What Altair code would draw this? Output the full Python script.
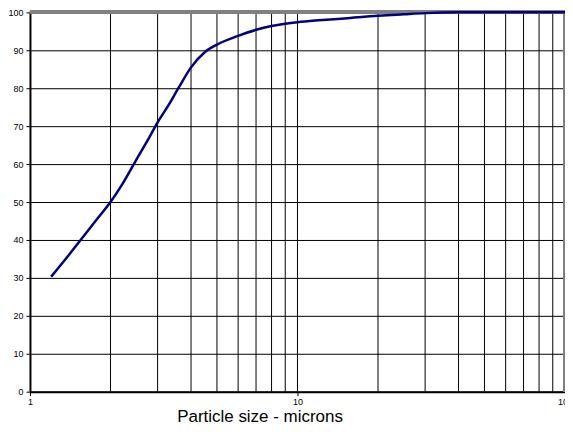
import altair as alt
import pandas as pd

# Particle size distribution (cumulative %)
size_um = [1.2, 1.4, 1.6, 1.8, 2.0, 2.2, 2.5, 2.8, 3.0, 3.3, 3.6, 4.0, 4.5,
           5.0, 6.0, 7.0, 8.0, 9.0, 10, 12, 15, 20, 25, 30, 40, 50, 70, 100]
cum_pct = [30.3, 36.1, 41.3, 45.9, 50.0, 54.4, 61.2, 67.2, 71.0, 75.6, 80.2,
           85.5, 89.5, 91.5, 93.8, 95.4, 96.4, 97.0, 97.4, 97.9, 98.4, 99.1,
           99.5, 99.8, 100, 100, 100, 100]

x_grid = [2, 3, 4, 5, 6, 7, 8, 9, 10, 20, 30, 40, 50, 60, 70, 80, 90]
x_ticks = [1, 10, 100]
y_ticks = [0, 10, 20, 30, 40, 50, 60, 70, 80, 90, 100]
border_x = 100
border_y = 100

df = pd.DataFrame({"size": size_um, "pct": cum_pct})
grid_df = pd.DataFrame({"size": x_grid})

FONT = "Liberation Sans"
xscale = alt.Scale(type="log", domain=[1, 100], nice=False)
yscale = alt.Scale(domain=[0, 100], nice=False)

xaxis = alt.Axis(
    values=x_ticks,
    format="d",
    title="Particle size - microns",
    titleFont=FONT,
    titleFontSize=17,
    titleFontWeight="normal",
    titleColor="#000000",
    titleX=230,
    titleY=30,
    titleBaseline="alphabetic",
    labelFont=FONT,
    labelFontSize=9,
    labelColor="#000000",
    labelPadding=2,
    tickSize=4,
    tickColor="#000000",
    domainColor="#000000",
    domainWidth=2,
    grid=False,
    labelFlush=False,
    labelOverlap=False,
)

yaxis = alt.Axis(
    values=y_ticks,
    title=None,
    labelFont=FONT,
    labelFontSize=9,
    labelColor="#000000",
    labelPadding=3,
    tickSize=4,
    tickColor="#000000",
    domainColor="#000000",
    domainWidth=2,
    grid=True,
    gridColor="#000000",
    gridWidth=1,
    labelFlush=False,
)

grid = alt.Chart(grid_df).mark_rule(color="#000000", strokeWidth=1).encode(
    x=alt.X("size:Q", scale=xscale, axis=xaxis)
)

top_border = alt.Chart(grid_df).mark_rule(color="#808080", strokeWidth=3).encode(
    y=alt.YDatum(border_y, scale=yscale, axis=yaxis)
)
right_border = alt.Chart(grid_df).mark_rule(color="#808080", strokeWidth=3).encode(
    x=alt.XDatum(border_x, scale=xscale, axis=xaxis)
)

line = alt.Chart(df).mark_line(
    color="#000080", strokeWidth=2.5, interpolate="monotone"
).encode(
    x=alt.X("size:Q", scale=xscale, axis=xaxis),
    y=alt.Y("pct:Q", scale=yscale, axis=yaxis),
)

chart = (
    alt.layer(grid, top_border, right_border, line)
    .properties(
        width=536,
        height=380,
        autosize=alt.AutoSizeParams(type="none"),
        padding={"left": 22, "top": 4, "right": 0, "bottom": 34},
        background="#ffffff",
    )
    .configure_view(stroke=None)
)

chart.save("out.html", embed_options={"renderer": "svg", "actions": False})
